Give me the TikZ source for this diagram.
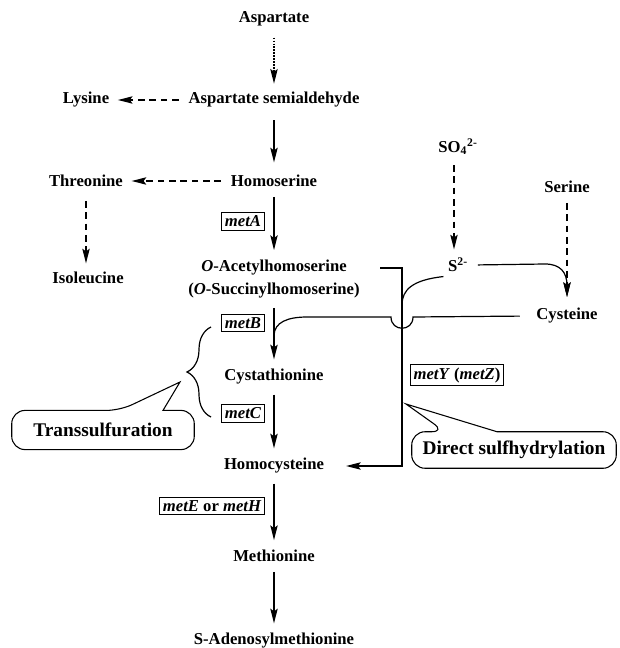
\documentclass[tikz,border=0pt]{standalone}
\usepackage{fontspec}
\setmainfont{Liberation Serif}
\usepackage{amsmath}
\usetikzlibrary{arrows.meta,decorations.pathreplacing}

\tikzset{
	metab/.style = {font = \bfseries\fontsize{12.5}{17}\selectfont, align = center},
	bigtext/.style = {font = \bfseries\fontsize{14.5}{17}\selectfont, inner sep = 0pt},
	genebox/.style = {draw, line width = 0.6pt, inner sep = 2.5pt, font = \bfseries\itshape\fontsize{12.5}{15}\selectfont},
	tip/.style = {-{Stealth[length = 11pt, width = 5.5pt, inset = 2pt]}},
	pathway/.style = {line width = 1.1pt, tip, shorten < = 4pt, shorten > = 4pt},
	sidepath/.style = {line width = 1pt, tip, dash pattern = on 5pt off 3.5pt, shorten < = 4pt, shorten > = 3pt},
	link/.style = {line width = 0.9pt},
	balloon/.style = {line width = 0.8pt}
}

\begin{document}
\begin{tikzpicture}[x = 0.75pt, y = -0.75pt]
	 \useasboundingbox (0, 0) rectangle (619, 648);
	 
	 \node[metab] (asp) at (274, 19) {Aspartate};
	 \node[metab] (asa) at (274, 100) {Aspartate semialdehyde};
	 \node[metab] (lys) at (86, 100) {Lysine};
	 \node[metab] (hse) at (274, 181) {Homoserine};
	 \node[metab] (thr) at (86, 181) {Threonine};
	 \node[metab] (ile) at (88, 278) {Isoleucine};
	 \node[metab] (oah) at (274, 279) {\textit{O}-Acetylhomoserine\\(\textit{O}-Succinylhomoserine)};
	 \node[metab] (cth) at (274, 377) {Cystathionine};
	 \node[metab] (hcy) at (274, 466) {Homocysteine};
	 \node[metab] (met) at (274, 556) {Methionine};
	 \node[metab] (sam) at (274, 641) {S-Adenosylmethionine};
	 \node[metab] (so4) at (458, 147) {SO\textsubscript{4}\textsuperscript{2-}};
	 \node[metab] (sul) at (458, 265) {S\textsuperscript{2-}};
	 \node[metab] (ser) at (567, 187) {Serine};
	 \node[metab] (cys) at (567, 316) {Cysteine};
	 
	 \node[genebox] (metA) at (243, 221) {metA};
	 \node[genebox] (metB) at (243, 323) {metB};
	 \node[genebox] (metC) at (243, 413) {metC};
	 \node[genebox] (metYZ) at (457, 375) {metY \textup{(}metZ\textup{)}};
	 \node[genebox] (metEH) at (212, 506) {metE \textup{or} metH};
	 
	 \node[bigtext, minimum width = 136.5pt, minimum height = 29pt] (trans) at (103, 430) {Transsulfuration};
	 \node[bigtext, minimum width = 153pt, minimum height = 27pt] (direct) at (514, 450) {Direct sulfhydrylation};
	 
	 \coordinate (transtip) at (180, 382);
	 \coordinate (directtip) at (406, 404);
	 \coordinate (oahR) at (380, 268);
	 \coordinate (dsTop) at (402, 268);
	 \coordinate (sulJoin) at (402, 305);
	 \coordinate (hopR) at (413, 317);
	 \coordinate (hopL) at (391, 317);
	 \coordinate (cysBend) at (307, 317);
	 \coordinate (cthJoin) at (274, 336);
	 \coordinate (sulBend) at (545, 264);
	 \coordinate (cysTip) at (567, 297);
	 \coordinate (braceLo) at (211, 417);
	 \coordinate (braceHi) at (211, 327);
	 
	 \draw[line width = 1.2pt, densely dotted, tip, shorten < = 5pt, shorten > = 3pt] (asp) -- (asa);
	 \draw[sidepath] (asa) -- (lys);
	 \draw[pathway, shorten < = 6pt, shorten > = 6pt] (asa) -- (hse);
	 \draw[sidepath] (hse) -- (thr);
	 \draw[sidepath, shorten < = 7pt] (thr) -- (thr |- ile.north);
	 \draw[pathway] (hse) -- (oah);
	 \draw[pathway] (oah) -- (cth);
	 \draw[pathway] (cth) -- (hcy);
	 \draw[pathway] (hcy) -- (met);
	 \draw[pathway] (met) -- (sam);
	 
	 \draw[sidepath] ([xshift = -3pt]so4.south) -- ([xshift = -3pt]so4.south |- sul.north);
	 \draw[sidepath, shorten > = 0pt] (ser) -- (cysTip);
	 \draw[link, tip, shorten < = 4pt] (sul.east) -- (sulBend) .. controls (560, 264) and (567, 272) .. (cysTip);
	 \draw[link] (sul.south west) .. controls (412, 280) and (402, 290) .. (sulJoin);
	 \draw[link, shorten < = 9pt] (cys.west) -- (hopR) .. controls (413, 332) and (391, 332) .. (hopL) -- (cysBend) .. controls (288, 317) and (274, 322) .. (cthJoin);
	 \draw[pathway, shorten < = 0pt, shorten > = 13pt] (oahR) -- (dsTop) |- (hcy);
	 
	 \draw[link, decorate, decoration = {brace, amplitude = 18pt}] (braceLo) -- (braceHi);
	 
	 \draw[balloon] (transtip) -- ([shift = {(60, 0)}]trans.north) [rounded corners = 10pt] -- (trans.north east) -- (trans.south east) -- (trans.south west) -- (trans.north west) -- ([shift = {(17, 0)}]trans.north) [sharp corners] -- cycle;
	 \draw[balloon] (directtip) -- ([shift = {(-17, 0)}]direct.north) [rounded corners = 10pt] -- (direct.north east) -- (direct.south east) -- (direct.south west) -- (direct.north west) -- ([shift = {(-69, 0)}]direct.north) [sharp corners] -- cycle;
\end{tikzpicture}
\end{document}
